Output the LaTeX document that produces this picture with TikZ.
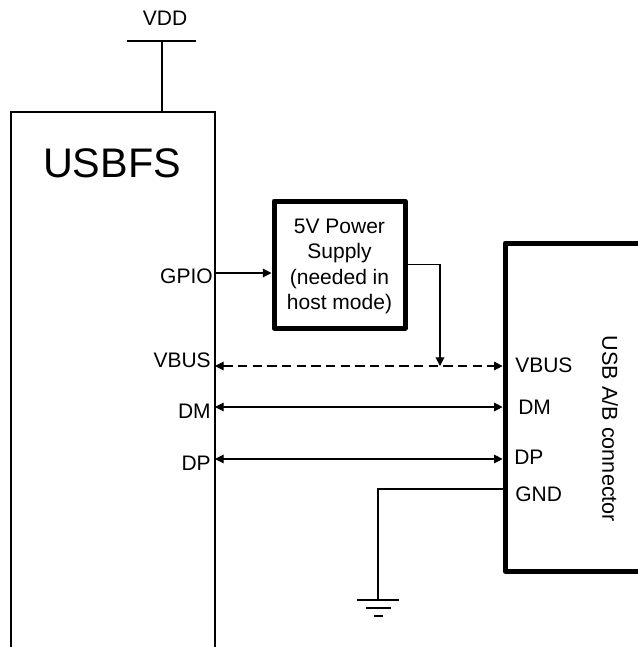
\documentclass[tikz,border=0pt]{standalone}
\usepackage{fontspec}
\setmainfont{Liberation Sans}
\usetikzlibrary{arrows.meta,calc,positioning}
\tikzset{
 wire/.style={line width=0.8pt},
 pinlabel/.style={font=\fontsize{15.75}{19.2}\selectfont,inner sep=0pt},
 heavybox/.style={draw,line width=3.75pt,line join=round,inner sep=0pt}
}
\begin{document}
\begin{tikzpicture}[x=0.75pt,y=-0.75pt,>={Triangle[length=6.5pt,width=6.5pt]}]
 \path[use as bounding box,clip] (0,0) rectangle (638,647);
 \node[draw,line width=1pt,minimum width=153pt,minimum height=441pt,inner sep=0pt] (usbfs) at (113,406) {};
 \node[font=\fontsize{31}{36}\selectfont,inner sep=0pt] (usbfsname) at (112,163) {USBFS};
 \node[heavybox,minimum width=98.25pt,minimum height=95.25pt] (supply) at (339.5,264.5) {};
 \node[pinlabel,align=center] (supplyname) at (339.5,266.5) {5V Power\\Supply\\(needed in\\host mode)};
 \node[heavybox,minimum width=131pt,minimum height=246pt] (usbconn) at (592.5,407) {};
 \node[pinlabel,font=\fontsize{16.2}{19}\selectfont,rotate=-90] (usbconnname) at (610,429) {USB A/B connector};
 \node[pinlabel] (vdd) at (165,18) {VDD};
 % pins of the controller
 \foreach \name/\txt/\x/\y in {gpiol/GPIO/213/276,vbusl/VBUS/211/360,dml/DM/211/411,dpl/DP/211/463}{
   \node[pinlabel,anchor=east] (\name) at (\x,\y) {\txt};}
 % pins of the connector
 \foreach \name/\txt/\x/\y in {vbusr/VBUS/515/365,dmr/DM/518/407,dpr/DP/514/457,gndr/GND/515/494}{
   \node[pinlabel,anchor=west] (\name) at (\x,\y) {\txt};}
 \coordinate (gpiopin) at (215,273);
 \coordinate (vbuspin) at (215,366);
 \coordinate (dmpin) at (215,407);
 \coordinate (dppin) at (215,459);
 \coordinate (gndpin) at (504,489);
 \coordinate (vbusjoin) at (440,366);
 \coordinate (gndtop) at (378,600);
 \coordinate (vddtop) at (162,41);
 \draw[wire,->] (gpiopin) -- (supply.west |- gpiopin);
 \draw[wire,->] (supply.east) -| (vbusjoin);
 \draw[wire,<->,dash pattern=on 7pt off 4pt]
   (vbuspin) -- (usbconn.west |- vbuspin);
 \foreach \pin in {dmpin,dppin}{
   \draw[wire,<->] (\pin) -- (usbconn.west |- \pin);}
 \draw[wire] (gndpin) -| (gndtop);
 \foreach \y/\w in {600/21,608/12.5,616/4.5}{
   \draw[wire] (378-\w,\y) -- (378+\w,\y);}
 \draw[wire] (vddtop) -- (vddtop |- usbfs.north);
 \draw[wire] (127,41) -- (196,41);
\end{tikzpicture}
\end{document}
